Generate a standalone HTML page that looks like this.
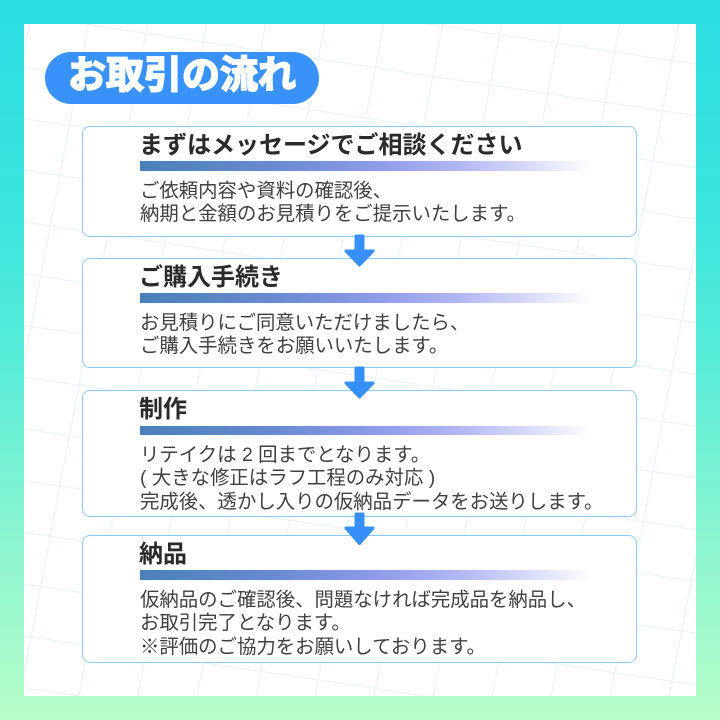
<!DOCTYPE html>
<html lang="ja">
<head>
<meta charset="utf-8">
<style>
  html,body{margin:0;padding:0;}
  body{width:720px;height:720px;overflow:hidden;position:relative;
    background:linear-gradient(to bottom,#2bdde2 0%,#3ce5de 30%,#58ecd8 50%,#86f4d2 72%,#b6fdc8 100%);
    font-family:"Liberation Sans","Noto Sans CJK JP",sans-serif;}
  .panel{position:absolute;left:24px;top:24px;width:672px;height:672px;background:#fff;}
  svg.grid{position:absolute;left:0;top:0;}
  .pill{position:absolute;left:45px;top:52px;width:274px;height:52px;border-radius:26px;background:#3892fa;}
  .pill span{position:absolute;left:0;right:0;top:-2px;text-align:center;line-height:52px;font-size:38px;font-weight:700;color:#fff;
    -webkit-text-stroke:1.8px #fff;letter-spacing:0;}
  .card{position:absolute;left:82px;width:555px;box-sizing:border-box;border:1.5px solid #8ec9fd;border-radius:8px;background:#fff;}
  .h{position:absolute;left:139px;font-size:24px;line-height:30px;font-weight:700;color:#2a2a2a;white-space:nowrap;}
  .bar{position:absolute;left:140px;width:453px;height:9.5px;
    background:linear-gradient(to right,#4a80b6 0%,#6a8ad2 30%,#8e9be9 52%,#b1b6f3 70%,#d6d9fa 85%,rgba(255,255,255,0) 100%);}
  .b{position:absolute;left:140px;font-size:19.4px;line-height:23.3px;color:#404040;white-space:nowrap;}
  svg.arr{position:absolute;left:0;top:0;}
</style>
</head>
<body>
<div class="panel"></div>
<svg class="grid" width="720" height="720" viewBox="0 0 720 720">
  <defs>
    <pattern id="g" patternUnits="userSpaceOnUse" width="57.4" height="50.3" patternTransform="matrix(1 0.15 -0.19 1 68.9 124.7)">
      <path d="M0 0.5 H57.4 M0.5 0 V50.3" stroke="#e6f1fc" stroke-width="1" fill="none"/>
    </pattern>
    <clipPath id="c"><rect x="24" y="24" width="672" height="672"/></clipPath>
  </defs>
  <rect x="24" y="24" width="672" height="672" fill="url(#g)" clip-path="url(#c)"/>
</svg>

<div class="pill"><span>お取引の流れ</span></div>

<!-- Card 1 -->
<div class="card" style="top:126px;height:110.5px;"></div>
<div class="h" style="top:131px;">まずはメッセージでご相談ください</div>
<div class="bar" style="top:161px;"></div>
<div class="b" style="top:180px;">ご依頼内容や資料の確認後、<br>納期と金額のお見積りをご提示いたします。</div>

<!-- Card 2 -->
<div class="card" style="top:258px;height:110px;"></div>
<div class="h" style="top:263px;">ご購入手続き</div>
<div class="bar" style="top:293px;"></div>
<div class="b" style="top:312px;">お見積りにご同意いただけましたら、<br>ご購入手続きをお願いいたします。</div>

<!-- Card 3 -->
<div class="card" style="top:390px;height:127px;"></div>
<div class="h" style="top:395px;">制作</div>
<div class="bar" style="top:425.5px;"></div>
<div class="b" style="top:444px;">リテイクは 2 回までとなります。<br>( 大きな修正はラフ工程のみ対応 )<br>完成後、透かし入りの仮納品データをお送りします。</div>

<!-- Card 4 -->
<div class="card" style="top:535px;height:128px;"></div>
<div class="h" style="top:540px;">納品</div>
<div class="bar" style="top:570px;"></div>
<div class="b" style="top:589px;">仮納品のご確認後、問題なければ完成品を納品し、<br>お取引完了となります。<br>※評価のご協力をお願いしております。</div>

<!-- Arrows -->
<svg class="arr" width="720" height="720" viewBox="0 0 720 720">
  <g fill="#3790fa" stroke="#3790fa" stroke-width="3" stroke-linejoin="round">
    <path d="M356 236 H363 V251 H373 L359.5 265 L346 251 H356 Z"/>
    <path d="M356 368 H363 V383 H373 L359.5 397 L346 383 H356 Z"/>
    <path d="M356 514 H363 V528 H373 L359.5 543.5 L346 528 H356 Z"/>
  </g>
</svg>
</body>
</html>
